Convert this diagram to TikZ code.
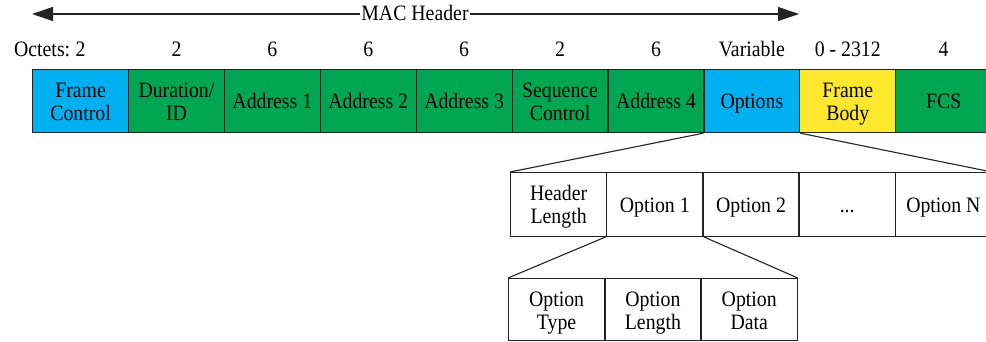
\documentclass[tikz,border=0pt]{standalone}
\usepackage{fontspec}
\setmainfont[FakeStretch=0.9]{Liberation Serif}
\usetikzlibrary{arrows.meta}
\definecolor{fblue}{RGB}{0,176,240}
\definecolor{fgreen}{RGB}{0,166,81}
\definecolor{fyellow}{RGB}{253,232,46}
\definecolor{edge}{RGB}{35,35,35}
% field text: tall strut on the first line, normal strut on the last,
% so one- and two-line labels sit at the same optical height
\newcommand\fldtext[1]{\rule{0pt}{23pt}#1\strut}
\tikzset{
  field/.style={draw=edge, line width=1.2pt, minimum width=95.9pt, minimum height=63.5pt,
    inner sep=0pt, align=center, anchor=north west, font=\fontsize{22}{23}\selectfont},
  sub/.style={field, fill=white, minimum width=96pt},
  octet/.style={font=\fontsize{22}{23}\selectfont, inner sep=0pt, anchor=base},
  fan/.style={draw=edge, line width=1.1pt},
  hdrarrow/.style={draw=edge, line width=1.1pt, -{Triangle[length=21pt,width=14pt]}}
}
\begin{document}
\begin{tikzpicture}[x=1pt,y=-1pt]
\useasboundingbox (0,0) rectangle (986,341);
% main frame fields
\foreach \n/\t/\c [count=\i from 0] in {
  fc/{Frame\\Control}/fblue, dur/{Duration/\\ID}/fgreen, a1/{Address 1}/fgreen,
  a2/{Address 2}/fgreen, a3/{Address 3}/fgreen, sc/{Sequence\\Control}/fgreen,
  a4/{Address 4}/fgreen, opt/{Options}/fblue, fb/{Frame\\Body}/fyellow, fcs/{FCS}/fgreen}
  \node[field, fill=\c] (\n) at ({32+95.9*\i},68.5) {\fldtext{\t}};
% octet counts
\foreach \n/\v in {fc/2, dur/2, a1/6, a2/6, a3/6, sc/2, a4/6, opt/Variable, fb/0 - 2312, fcs/4}
  \node[octet] (o-\n) at (\n.center |- 0,56) {\v};
\node[octet, anchor=base east] (octlbl) at ([xshift=-5pt]o-fc.base west) {Octets:};
% MAC header span
\node[octet, anchor=center, fill=white, inner xsep=1pt, text height=15pt, text depth=1.6pt]
  (mac) at (415,14) {MAC Header};
\coordinate (macl) at (32,14);
\coordinate (macr) at (799,14);
\draw[hdrarrow] (mac.west) -- (macl);
\draw[hdrarrow] (mac.east) -- (macr);
% options breakdown
\foreach \n/\t [count=\i from 0] in {hl/{Header\\Length}, o1/{Option 1}, o2/{Option 2}, od/{...}, on/{Option N}}
  \node[sub] (\n) at ({510+96.2*\i},172) {\fldtext{\t}};
\draw[fan] (opt.south west) -- (hl.north west);
\draw[fan] (opt.south east) -- (on.north east);
% option 1 breakdown
\foreach \n/\t [count=\i from 0] in {ot/{Option\\Type}, ol/{Option\\Length}, odt/{Option\\Data}}
  \node[sub, minimum height=62pt] (\n) at ({508+96.3*\i},278) {\fldtext{\t}};
\draw[fan] (o1.south west) -- (ot.north west);
\draw[fan] (o1.south east) -- (odt.north east);
\end{tikzpicture}
\end{document}
